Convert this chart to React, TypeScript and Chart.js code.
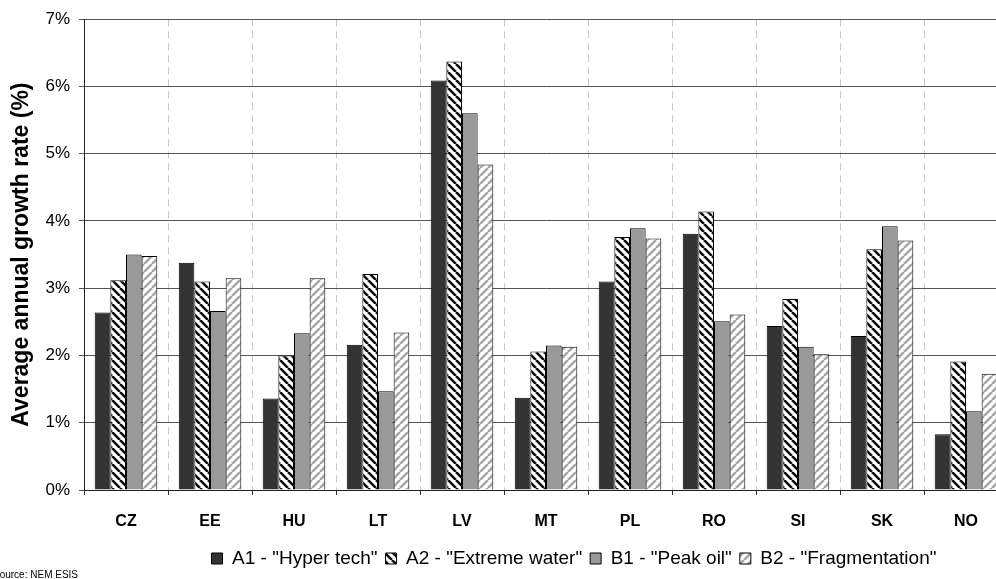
import { useEffect, useRef } from "react";
import { Chart, registerables } from "chart.js";

Chart.register(...registerables);

const categories = ["CZ", "EE", "HU", "LT", "LV", "MT", "PL", "RO", "SI", "SK", "NO"];
const seriesLabels = [
  'A1 - "Hyper tech"',
  'A2 - "Extreme water"',
  'B1 - "Peak oil"',
  'B2 - "Fragmentation"',
];
const a1Values = [2.64, 3.38, 1.36, 2.16, 6.09, 1.37, 3.1, 3.81, 2.44, 2.29, 0.83];
const a2Values = [3.12, 3.1, 2.0, 3.21, 6.37, 2.06, 3.76, 4.14, 2.84, 3.58, 1.91];
const b1Values = [3.5, 2.66, 2.33, 1.47, 5.6, 2.15, 3.89, 2.51, 2.13, 3.92, 1.17];
const b2Values = [3.48, 3.15, 3.15, 2.34, 4.84, 2.13, 3.74, 2.61, 2.02, 3.71, 1.73];
const yMin = 0;
const yMax = 7;
const yStep = 1;
const yTitle = "Average annual growth rate (%)";
const sourceNote = "Source: NEM ESIS";

const FONT = "'Liberation Sans', Arial, Helvetica, sans-serif";
const LEGEND_SHIFT = 70;

function stripes(bg: string, fg: string, dir: "down" | "up", size = 8, width = 2.6) {
  const c = document.createElement("canvas");
  c.width = size;
  c.height = size;
  const g = c.getContext("2d")!;
  g.fillStyle = bg;
  g.fillRect(0, 0, size, size);
  g.strokeStyle = fg;
  g.lineWidth = width;
  g.beginPath();
  for (let k = -1; k <= 1; k++) {
    if (dir === "down") {
      g.moveTo(k * size, 0);
      g.lineTo(k * size + size, size);
    } else {
      g.moveTo(k * size, size);
      g.lineTo(k * size + size, 0);
    }
  }
  g.stroke();
  return g.createPattern(c, "repeat")!;
}

export default function App() {
  const ref = useRef<HTMLCanvasElement | null>(null);

  useEffect(() => {
    document.body.style.margin = "0";
    document.body.style.overflow = "hidden";
    document.documentElement.style.overflow = "hidden";
    if (!ref.current) return;

    const hatchA2 = stripes("#ffffff", "#111111", "down");
    const hatchB2 = stripes("#ffffff", "#a8a8a8", "up");

    const legendShift = {
      id: "legendShift",
      afterLayout(chart: any) {
        const l = chart.legend;
        if (l) {
          l.left += LEGEND_SHIFT;
          l.right += LEGEND_SHIFT;
        }
      },
    };

    const sourcePlugin = {
      id: "sourceNote",
      afterDraw(chart: any) {
        const ctx = chart.ctx;
        ctx.save();
        ctx.font = `10px ${FONT}`;
        ctx.fillStyle = "#000";
        ctx.textBaseline = "alphabetic";
        ctx.textAlign = "left";
        ctx.fillText(sourceNote, -7, 578);
        ctx.restore();
      },
    };

    const common = {
      borderColor: "#000000",
      borderWidth: 1,
      barPercentage: 1.0,
      categoryPercentage: 0.745,
    };

    const chart = new Chart(ref.current, {
      type: "bar",
      data: {
        labels: categories,
        datasets: [
          { label: seriesLabels[0], data: a1Values, backgroundColor: "#333333", ...common },
          { label: seriesLabels[1], data: a2Values, backgroundColor: hatchA2, ...common },
          { label: seriesLabels[2], data: b1Values, backgroundColor: "#999999", ...common },
          { label: seriesLabels[3], data: b2Values, backgroundColor: hatchB2, ...common },
        ],
      },
      options: {
        animation: false,
        responsive: true,
        maintainAspectRatio: false,
        layout: { padding: { top: 13, right: 4, bottom: 1, left: 0 } },
        plugins: {
          tooltip: { enabled: false },
          legend: {
            position: "bottom",
            labels: {
              color: "#000",
              font: { family: FONT, size: 19 },
              boxWidth: 11,
              boxHeight: 11,
              padding: 8,
            },
          },
        },
        scales: {
          x: {
            grid: {
              offset: true,
              color: "#c4c4c4",
              lineWidth: 1,
              tickLength: 5,
              tickColor: "#333",
              tickBorderDash: [],
            },
            border: { display: true, color: "#222", width: 1, dash: [7, 5] },
            ticks: {
              color: "#000",
              padding: 17,
              font: { family: FONT, size: 16, weight: "bold" },
            },
            afterFit(scale: any) {
              scale.height = 51;
            },
          },
          y: {
            min: yMin,
            max: yMax,
            ticks: {
              stepSize: yStep,
              color: "#000",
              padding: 9,
              font: { family: FONT, size: 17 },
              callback: (v: any) => `${v}%`,
            },
            grid: {
              color: "#555",
              lineWidth: 1,
              tickLength: 5,
              tickColor: "#555",
            },
            border: { display: true, color: "#222", width: 1 },
            title: {
              display: true,
              text: yTitle,
              color: "#000",
              font: { family: FONT, size: 23, weight: "bold" },
              padding: { top: 8, bottom: 0 },
            },
            afterFit(scale: any) {
              scale.width = 84;
            },
          },
        },
      },
      plugins: [legendShift, sourcePlugin],
    } as any);

    return () => chart.destroy();
  }, []);

  return (
    <div style={{ position: "relative", width: 1012, height: 579 }}>
      <canvas ref={ref} />
    </div>
  );
}
